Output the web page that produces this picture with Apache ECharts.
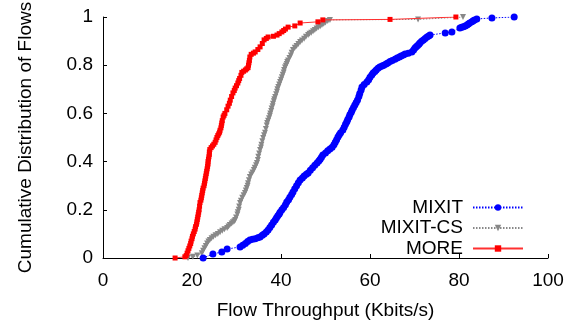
<!DOCTYPE html>
<html><head><meta charset="utf-8">
<script src="https://cdn.jsdelivr.net/npm/echarts@6/dist/echarts.min.js"></script>
<style>html,body{margin:0;padding:0;background:#fff}#c{width:582px;height:321px}</style>
</head><body><div id="c"></div>
<script>
// ---- data ----
const seriesNames = ['MIXIT', 'MIXIT-CS', 'MORE'];
const xTicks = [0, 20, 40, 60, 80, 100];
const yTicks = [0, 0.2, 0.4, 0.6, 0.8, 1];

const mixitX = [22.5,24.7,26.7,27.9,30.8,31.4,32.0,32.5,33.0,33.6,34.2,34.8,35.3,35.8,36.2,36.7,37.1,37.5,37.9,38.3,38.7,39.0,39.3,39.6,39.8,40.2,40.6,41.0,41.3,41.7,42.0,42.4,42.7,43.1,43.5,43.9,44.3,44.8,45.2,45.7,46.1,46.6,47.1,47.6,48.1,48.5,48.8,49.1,49.4,50.0,50.5,51.0,51.5,51.9,52.2,52.5,52.8,53.1,53.4,53.9,54.2,54.5,54.8,55.0,55.3,55.5,55.8,56.0,56.3,56.6,56.9,57.2,57.5,57.7,58.0,58.2,58.7,59.3,59.7,60.0,60.4,60.7,61.1,61.4,61.8,62.2,62.7,63.1,63.6,64.0,64.5,65.0,65.6,66.1,66.6,67.0,67.5,67.9,68.6,69.4,69.8,70.1,70.4,70.7,71.0,71.2,71.6,72.0,72.4,72.8,73.2,73.5,76.9,78.4,80.2,80.6,81.0,81.4,81.8,82.1,82.4,82.9,83.2,83.5,84.0,87.4,92.4];
const mixitY = [0.000,0.017,0.025,0.037,0.046,0.053,0.060,0.068,0.075,0.078,0.080,0.084,0.087,0.094,0.100,0.108,0.116,0.127,0.137,0.148,0.158,0.167,0.175,0.183,0.190,0.200,0.210,0.221,0.232,0.242,0.252,0.263,0.274,0.287,0.300,0.312,0.324,0.332,0.340,0.347,0.353,0.364,0.375,0.385,0.394,0.402,0.410,0.418,0.427,0.436,0.445,0.452,0.460,0.470,0.480,0.491,0.502,0.511,0.520,0.531,0.543,0.555,0.565,0.575,0.585,0.595,0.605,0.614,0.625,0.635,0.645,0.656,0.670,0.683,0.697,0.710,0.720,0.730,0.740,0.750,0.759,0.768,0.774,0.780,0.787,0.793,0.797,0.800,0.805,0.809,0.815,0.820,0.825,0.830,0.834,0.838,0.842,0.846,0.850,0.855,0.863,0.871,0.877,0.882,0.887,0.892,0.899,0.905,0.911,0.917,0.921,0.925,0.934,0.938,0.954,0.957,0.960,0.963,0.967,0.971,0.975,0.980,0.984,0.988,0.992,0.996,1.000];

const mixitCsX = [19.1,20.2,21.2,22.2,22.5,22.8,23.1,23.4,23.7,24.0,24.4,24.8,25.3,25.8,26.3,26.8,27.3,27.9,28.2,28.5,28.9,29.2,29.5,29.7,29.9,30.2,30.3,30.5,30.6,30.8,31.0,31.3,31.6,31.9,32.1,32.3,32.5,32.6,32.8,33.0,33.3,33.6,33.9,34.1,34.4,34.6,34.8,34.9,35.1,35.3,35.5,35.6,35.8,36.0,36.2,36.4,36.6,36.8,36.9,37.1,37.3,37.5,37.6,37.8,37.9,38.1,38.2,38.4,38.5,38.7,38.9,39.1,39.2,39.4,39.6,39.8,40.0,40.2,40.4,40.6,40.7,40.9,41.1,41.3,41.4,41.6,41.9,42.2,42.4,42.7,43.1,43.5,43.9,44.3,44.7,45.2,45.6,46.1,46.4,46.8,47.2,47.6,48.0,48.4,48.8,49.2,49.6,50.0,50.5,51.0,70.8,80.9];
const mixitCsY = [0.000,0.005,0.010,0.020,0.030,0.040,0.050,0.060,0.068,0.075,0.082,0.088,0.094,0.100,0.107,0.113,0.119,0.125,0.131,0.137,0.143,0.148,0.153,0.158,0.168,0.180,0.190,0.200,0.214,0.228,0.238,0.250,0.260,0.270,0.280,0.290,0.300,0.310,0.323,0.336,0.346,0.355,0.365,0.375,0.385,0.394,0.407,0.420,0.434,0.448,0.459,0.470,0.484,0.498,0.509,0.520,0.535,0.550,0.560,0.570,0.580,0.590,0.600,0.610,0.620,0.630,0.640,0.650,0.659,0.668,0.679,0.690,0.700,0.710,0.720,0.730,0.740,0.750,0.760,0.770,0.780,0.790,0.798,0.805,0.813,0.820,0.830,0.840,0.852,0.863,0.872,0.880,0.888,0.896,0.903,0.910,0.918,0.925,0.930,0.935,0.941,0.946,0.952,0.957,0.962,0.967,0.972,0.977,0.983,0.988,0.990,1.000];

const moreX = [16.2,18.4,18.7,18.9,19.1,19.3,19.5,19.7,19.8,20.0,20.1,20.3,20.5,20.7,20.8,21.0,21.1,21.2,21.3,21.4,21.5,21.6,21.7,21.8,22.0,22.1,22.2,22.3,22.4,22.5,22.7,22.8,22.9,23.0,23.1,23.2,23.3,23.4,23.5,23.6,23.6,23.7,23.8,23.9,23.9,24.0,24.3,24.6,24.9,25.2,25.4,25.6,25.8,26.0,26.2,26.3,26.5,26.6,26.7,26.8,27.0,27.2,27.4,27.8,28.1,28.4,28.6,28.9,29.2,29.5,29.7,30.0,30.3,30.5,30.7,31.0,31.2,31.6,32.0,32.3,32.6,32.7,32.8,32.9,33.0,33.3,33.8,34.2,34.8,35.3,35.8,36.2,36.7,37.1,38.3,39.1,39.6,40.2,40.6,41.0,41.6,43.1,44.3,48.3,49.4,64.5,79.3];
const moreY = [0.000,0.005,0.010,0.020,0.030,0.040,0.050,0.060,0.070,0.080,0.090,0.100,0.110,0.120,0.130,0.140,0.150,0.160,0.170,0.180,0.190,0.200,0.215,0.230,0.240,0.250,0.260,0.270,0.280,0.290,0.300,0.310,0.320,0.330,0.340,0.350,0.360,0.370,0.380,0.390,0.400,0.410,0.420,0.430,0.440,0.450,0.458,0.465,0.472,0.480,0.490,0.500,0.508,0.515,0.522,0.530,0.540,0.550,0.560,0.570,0.585,0.592,0.600,0.615,0.630,0.642,0.655,0.670,0.685,0.695,0.705,0.715,0.726,0.736,0.745,0.758,0.770,0.775,0.780,0.785,0.790,0.800,0.810,0.820,0.834,0.845,0.850,0.855,0.865,0.876,0.890,0.905,0.911,0.917,0.920,0.925,0.931,0.938,0.944,0.950,0.958,0.963,0.975,0.980,0.988,0.990,1.000];

const pairs = (xs, ys) => xs.map((x, i) => [x, ys[i]]);

const font = "'Liberation Sans', Arial, Helvetica, sans-serif";
const chart = echarts.init(document.getElementById('c'), null, {renderer: 'canvas'});
chart.setOption({
  animation: false,
  backgroundColor: '#fff',
  textStyle: {fontFamily: font},
  grid: {left: 103, right: 34, top: 17, bottom: 63, containLabel: false, outerBoundsMode: 'none'},
  legend: {
    orient: 'vertical',
    align: 'right',
    right: 53,
    top: 193,
    itemWidth: 50,
    itemHeight: 8,
    itemGap: 1.5,
    textStyle: {fontFamily: font, fontSize: 19, lineHeight: 18, color: '#000', padding: [0, 5, 0, 0]},
    data: seriesNames
  },
  xAxis: {
    type: 'value', min: 0, max: 100, interval: 20,
    name: 'Flow Throughput (Kbits/s)', nameLocation: 'middle', nameGap: 43,
    nameTextStyle: {fontFamily: font, fontSize: 19, color: '#000'},
    axisLine: {lineStyle: {color: '#000', width: 1}},
    axisTick: {inside: true, length: 4, lineStyle: {color: '#000'}},
    axisLabel: {fontFamily: font, fontSize: 19, color: '#000', margin: 13,
      formatter: v => xTicks.includes(v) ? String(v) : ''},
    splitLine: {show: false}
  },
  yAxis: {
    type: 'value', min: 0, max: 1, interval: 0.2,
    name: 'Cumulative Distribution of Flows', nameLocation: 'middle', nameGap: 68, nameRotate: 90,
    nameTextStyle: {fontFamily: font, fontSize: 19, color: '#000'},
    axisLine: {show: true, lineStyle: {color: '#000', width: 1}},
    axisTick: {show: true, inside: true, length: 4, lineStyle: {color: '#000'}},
    axisLabel: {fontFamily: font, fontSize: 19, color: '#000', margin: 10,
      formatter: v => { const t = yTicks.find(k => Math.abs(k - v) < 1e-9); return t === undefined ? '' : String(t); }},
    splitLine: {show: false}
  },
  series: [
    {name: 'MIXIT', type: 'line', data: pairs(mixitX, mixitY), symbol: 'circle', symbolSize: 7,
      itemStyle: {color: '#0000ff'}, lineStyle: {color: '#0000ff', width: 1, type: [1.5, 1.5]}, z: 3},
    {name: 'MIXIT-CS', type: 'line', data: pairs(mixitCsX, mixitCsY), symbol: 'triangle', symbolRotate: 180, symbolSize: 6,
      itemStyle: {color: '#888888'}, lineStyle: {color: '#888888', width: 1, type: [1.5, 1.5]}, z: 2},
    {name: 'MORE', type: 'line', data: pairs(moreX, moreY), symbol: 'rect', symbolSize: 5,
      itemStyle: {color: '#ff0000'}, lineStyle: {color: '#ff3030', width: 1}, z: 4}
  ]
});
</script></body></html>
